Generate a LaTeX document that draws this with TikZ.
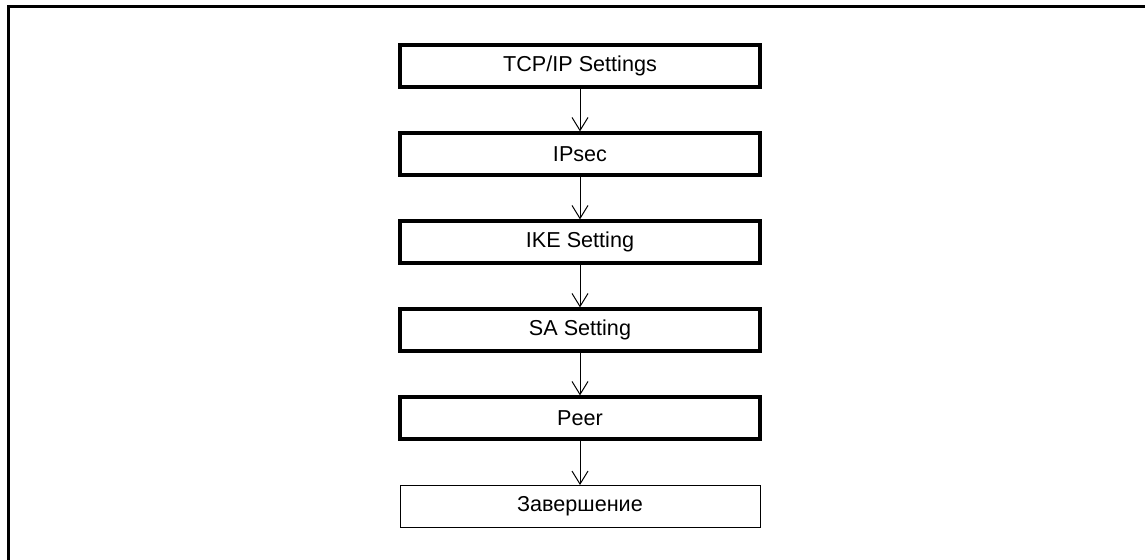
\documentclass[tikz,border=0pt]{standalone}
\usepackage{fontspec}
\setmainfont{Liberation Sans}
\usepackage{tikz}
\usetikzlibrary{arrows.meta,positioning}

\begin{document}
\begin{tikzpicture}[x=0.5pt,y=-0.5pt,font=\fontsize{10.8pt}{13pt}\selectfont,>={Straight Barb[length=6.5pt,width=8pt]}]
  \tikzset{stepbox/.style={draw,line width=1.6pt,minimum width=180pt,minimum height=21pt,inner sep=0pt},
    lastbox/.style={stepbox,line width=0.5pt},
    flow/.style={->,line width=0.5pt}}
  \useasboundingbox (0,0) rectangle (1145,560);
  % open frame, top and left only
  \draw[line width=1.25pt] (8.7,560) -- (8.7,6.7) -- (1145,6.7);
  \node[stepbox] (tcp) at (580,66) {TCP/IP Settings};
  \node[stepbox] (ipsec) at (580,154) {IPsec};
  \node[stepbox] (ike) at (580,242) {IKE Setting};
  \node[stepbox] (sa) at (580,330) {SA Setting};
  \node[stepbox] (peer) at (580,418) {Peer};
  \node[lastbox] (done) at (580,506.5) {Завершение};
  \draw[flow] (tcp) -- (ipsec);
  \draw[flow] (ipsec) -- (ike);
  \draw[flow] (ike) -- (sa);
  \draw[flow] (sa) -- (peer);
  \draw[flow] (peer) -- (done);
\end{tikzpicture}
\end{document}
